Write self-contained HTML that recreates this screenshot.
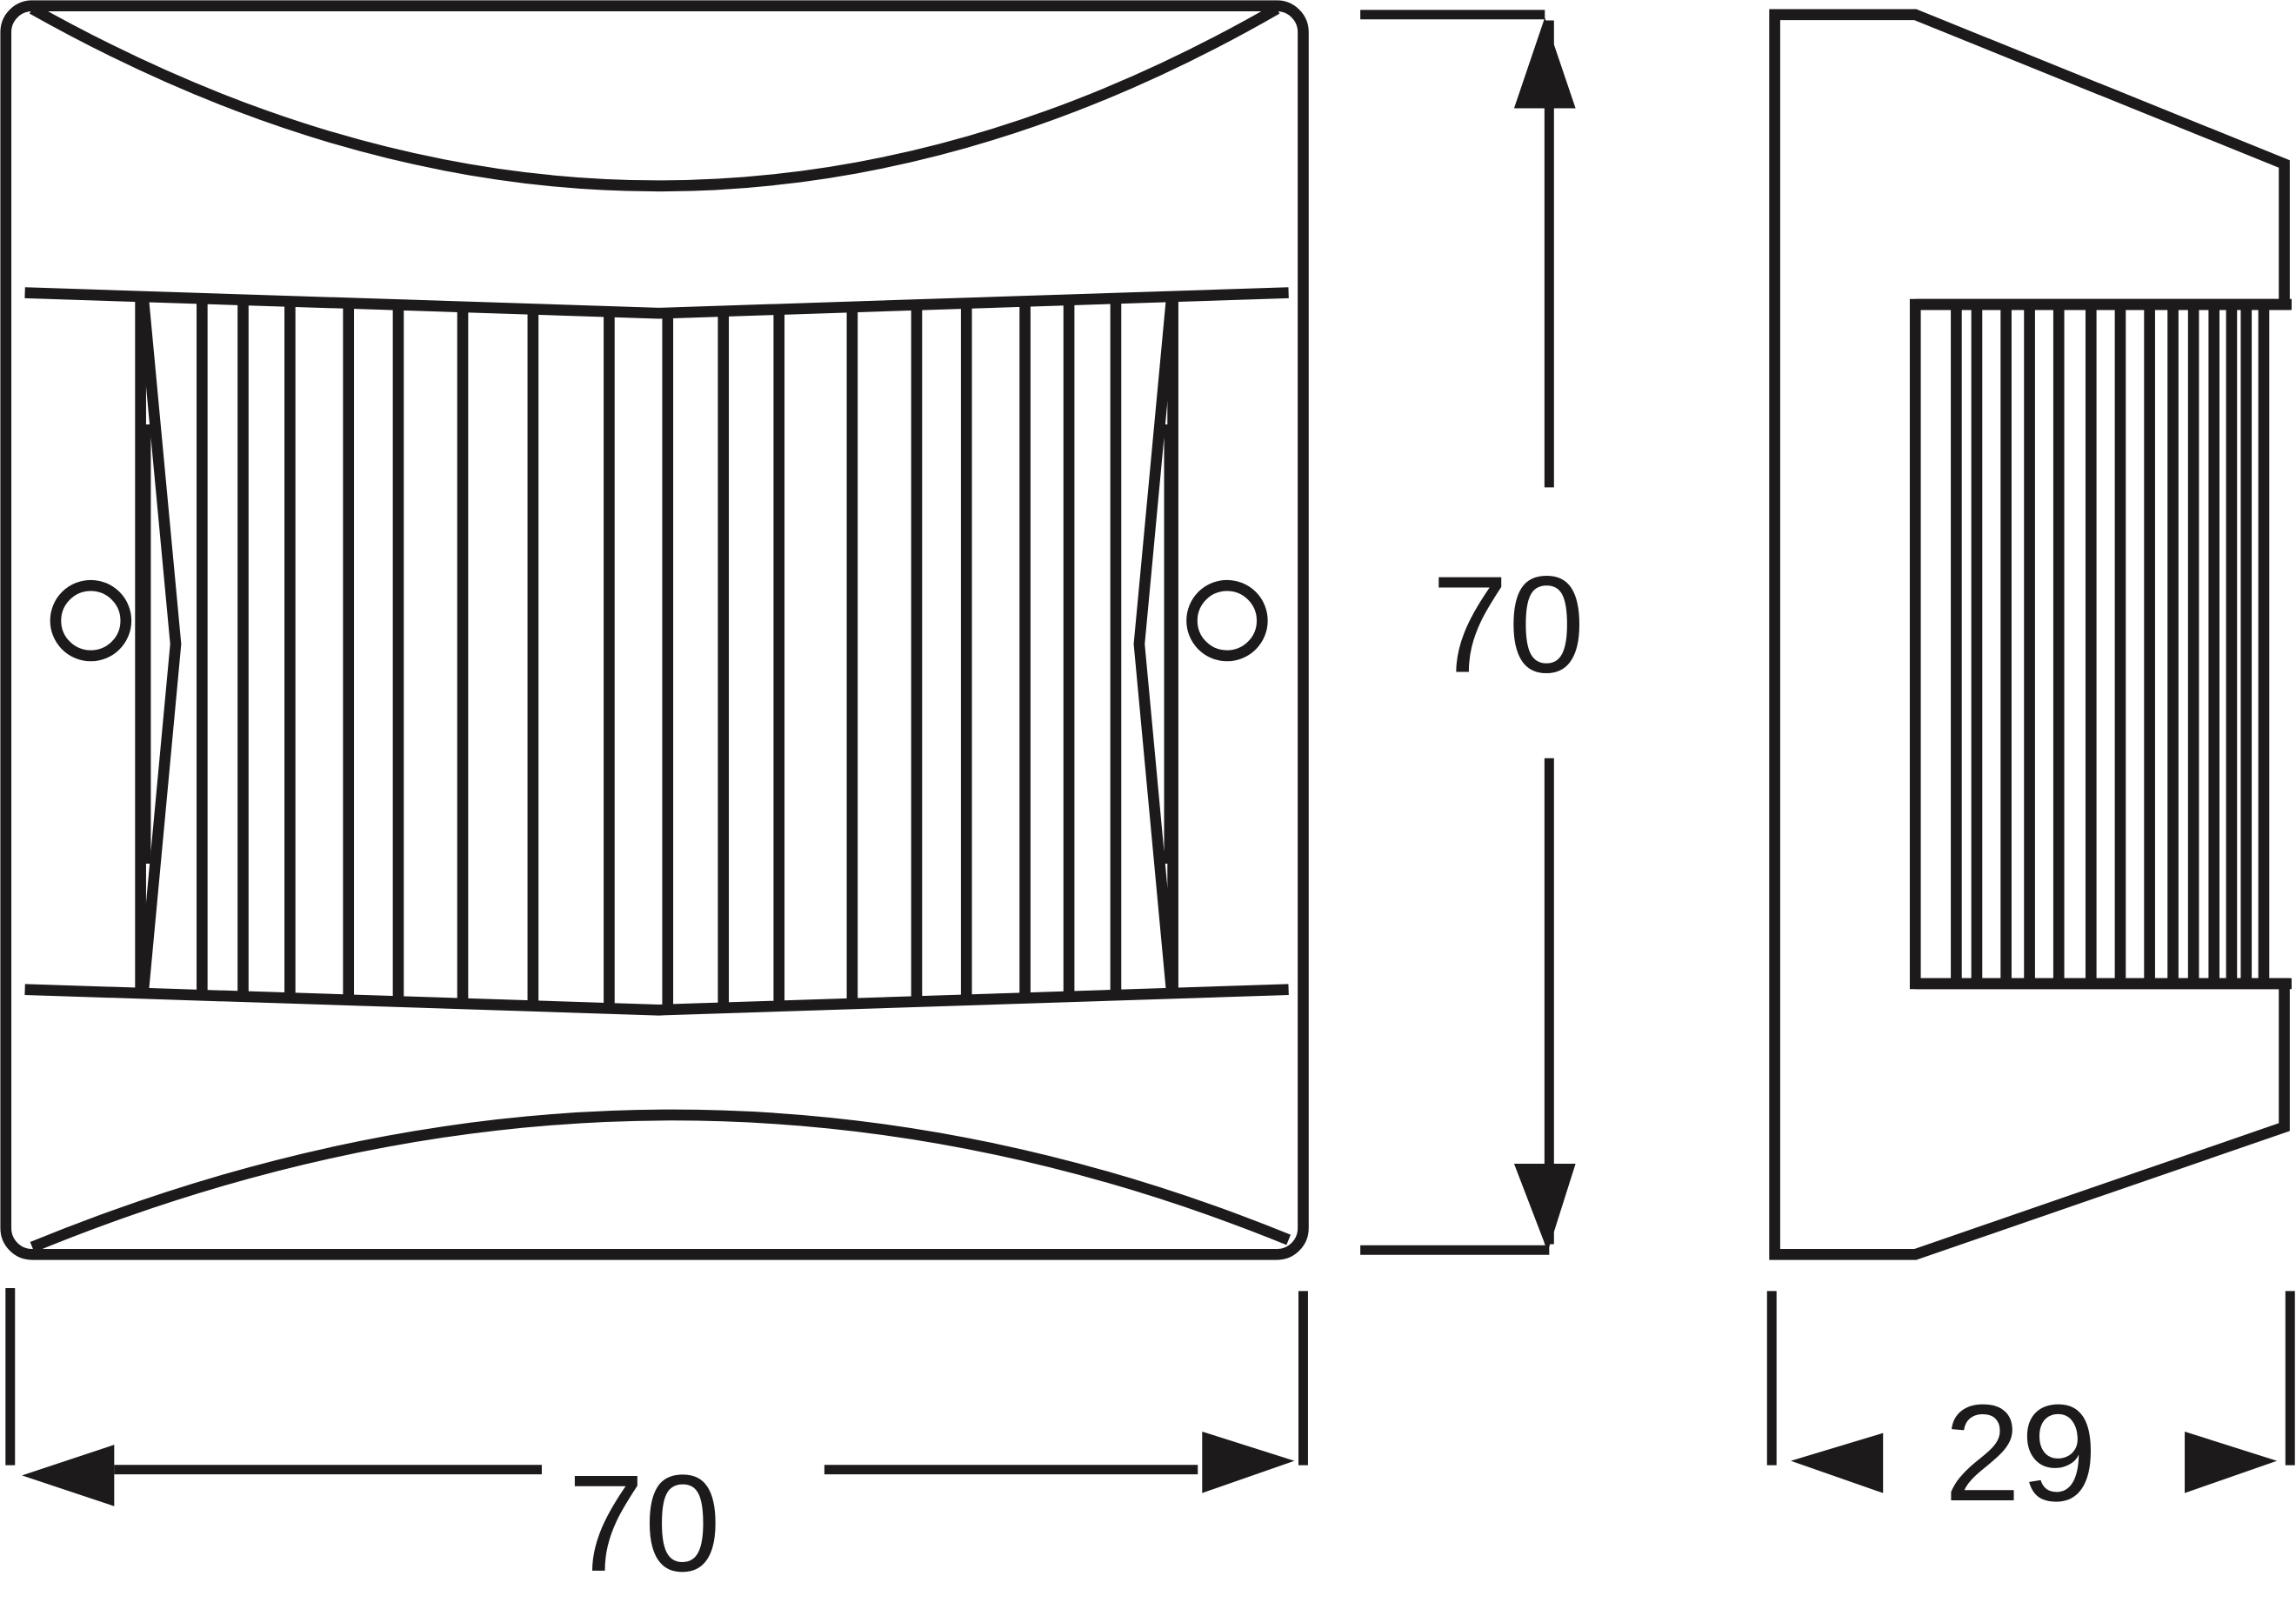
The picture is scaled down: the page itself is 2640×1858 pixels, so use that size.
<!DOCTYPE html>
<html><head><meta charset="utf-8"><style>
html,body{margin:0;padding:0;background:#fff;}
svg{display:block;}
</style></head><body>
<svg width="2640" height="1858" viewBox="0 0 1568 1104" preserveAspectRatio="none" xmlns="http://www.w3.org/2000/svg">
<g fill="none" stroke="#1d1a1b" stroke-width="7.5">
<rect x="4" y="4" width="886" height="853" rx="18"/>
<path d="M22,6 Q452,248 872,6"/>
<path d="M22,852 Q455,674 880,847"/>
<path d="M17,200 L450,214 L880,200"/>
<path d="M17,676 L450,690 L880,676"/>
<path d="M98,205 L120,440 L98,676"/>
<path d="M800,205 L778,440 L800,676"/>
<circle cx="62" cy="424" r="24"/>
<circle cx="838" cy="424" r="24"/>
</g>
<g stroke="#1d1a1b" stroke-width="4">
<line x1="101" y1="290" x2="101" y2="590"/>
<line x1="797" y1="290" x2="797" y2="590"/>
</g>
<g stroke="#1d1a1b" stroke-width="7.5" id="fins"></g>
<g fill="none" stroke="#1d1a1b" stroke-width="7.5">
<polygon points="1212,10 1308,10 1560,112 1560,208 1308,208 1308,672 1560,672 1560,770 1308,857 1212,857"/>
<line x1="1308" y1="208" x2="1565" y2="208"/>
<line x1="1308" y1="672" x2="1565" y2="672"/>
</g>
<g stroke="#1d1a1b" stroke-width="6.5">
<line x1="929" y1="10" x2="1055" y2="10"/>
<line x1="929" y1="854" x2="1058" y2="854"/>
<line x1="1058" y1="14" x2="1058" y2="333"/>
<line x1="1058" y1="518" x2="1058" y2="850"/>
<line x1="7" y1="880" x2="7" y2="1001"/>
<line x1="890" y1="882" x2="890" y2="1001"/>
<line x1="78" y1="1004" x2="370" y2="1004"/>
<line x1="563" y1="1004" x2="818" y2="1004"/>
<line x1="1210" y1="882" x2="1210" y2="1001"/>
<line x1="1564" y1="882" x2="1564" y2="1001"/>
</g>
<g fill="#1d1a1b">
<polygon points="1034,74 1076,74 1055,12"/>
<polygon points="1034,795 1076,795 1057,855"/>
<polygon points="15,1008 78,987 78,1029"/>
<polygon points="884,998 821,978 821,1020"/>
<polygon points="1223,998 1286,979 1286,1020"/>
<polygon points="1555,998 1492,978 1492,1020"/>
</g>
<g font-family="Liberation Sans, sans-serif" font-size="94" fill="#1d1a1b" text-anchor="middle">
<text x="1030" y="459">70</text>
<text x="440" y="1073">70</text>
<text x="1380" y="1025">29</text>
</g>
<script>
(function(){
var g=document.getElementById('fins'),ns='http://www.w3.org/2000/svg';
function up(x){return x<450?200+14*(x-17)/433:214-14*(x-450)/430;}
function lo(x){return up(x)+476;}
var xs=[96,138,166,198,238,272,316,364,416,456,494,532,582,626,660,700,730,762,801];
xs.forEach(function(x){var l=document.createElementNS(ns,'line');l.setAttribute('x1',x);l.setAttribute('x2',x);l.setAttribute('y1',up(x));l.setAttribute('y2',lo(x));g.appendChild(l);});
var sx=[1336,1350,1370,1386,1406,1428,1448,1468,1484,1498,1512,1524,1534,1546];
sx.forEach(function(x){var l=document.createElementNS(ns,'line');l.setAttribute('x1',x);l.setAttribute('x2',x);l.setAttribute('y1',208);l.setAttribute('y2',672);g.appendChild(l);});
})();
</script>
</svg>
</body></html>
